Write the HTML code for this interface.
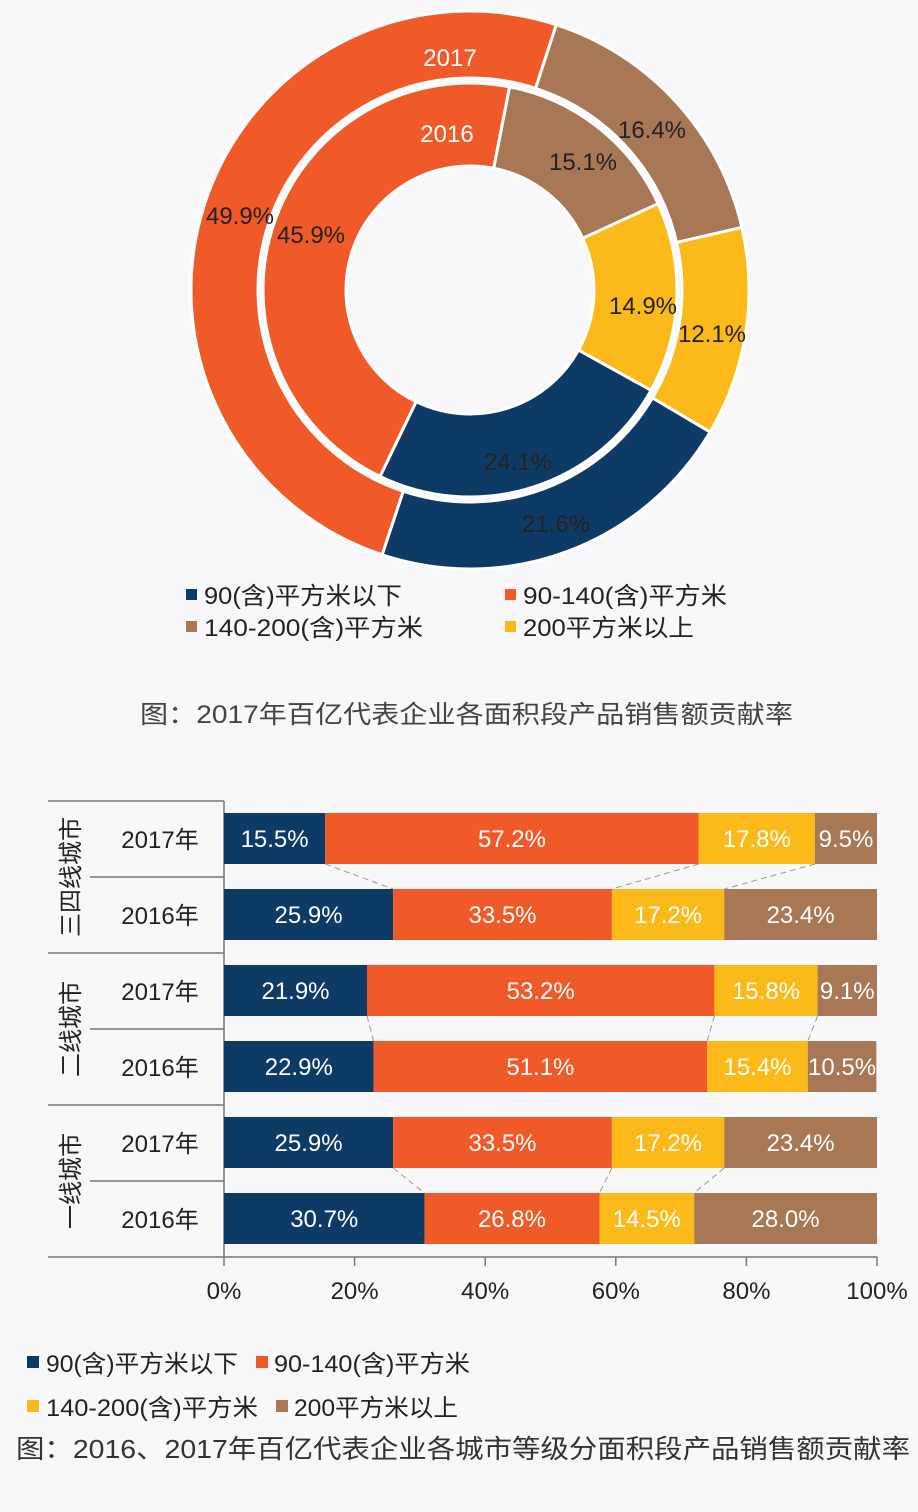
<!DOCTYPE html>
<html><head><meta charset="utf-8">
<style>
html,body{margin:0;padding:0;background:#f8f7f9;}
svg{display:block;font-family:"Liberation Sans","Noto Sans CJK SC",sans-serif;}
</style></head>
<body>
<svg id="chart" width="918" height="1512" viewBox="0 0 918 1512" xmlns="http://www.w3.org/2000/svg">
<rect width="918" height="1512" fill="#f8f7f9"/>
<g id="donut"></g>
<g id="donut-legend">
  <rect x="186" y="589" width="11" height="11" fill="#0e3b66"/>
  <text x="204" y="604" font-size="24" fill="#222" textLength="198" lengthAdjust="spacingAndGlyphs">90(含)平方米以下</text>
  <rect x="505" y="589" width="11" height="11" fill="#f05a28"/>
  <text x="523" y="604" font-size="24" fill="#222" textLength="204" lengthAdjust="spacingAndGlyphs">90-140(含)平方米</text>
  <rect x="186" y="621" width="11" height="11" fill="#a77756"/>
  <text x="204" y="636" font-size="24" fill="#222" textLength="219" lengthAdjust="spacingAndGlyphs">140-200(含)平方米</text>
  <rect x="505" y="621" width="11" height="11" fill="#fbb91a"/>
  <text x="523" y="636" font-size="24" fill="#222" textLength="171" lengthAdjust="spacingAndGlyphs">200平方米以上</text>
</g>
<text x="140" y="723" font-size="25" fill="#444" textLength="653" lengthAdjust="spacingAndGlyphs">图：2017年百亿代表企业各面积段产品销售额贡献率</text>

<g id="table"></g>
<g id="bars"></g>
<g id="axis"></g>

<g>
  <rect x="27" y="1356" width="12" height="12" fill="#0e3b66"/>
  <text x="46" y="1372" font-size="24" fill="#222" textLength="192" lengthAdjust="spacingAndGlyphs">90(含)平方米以下</text>
  <rect x="256" y="1356" width="12" height="12" fill="#f05a28"/>
  <text x="274" y="1372" font-size="24" fill="#222" textLength="196" lengthAdjust="spacingAndGlyphs">90-140(含)平方米</text>
  <rect x="27" y="1400" width="12" height="12" fill="#fbb91a"/>
  <text x="46" y="1416" font-size="24" fill="#222" textLength="212" lengthAdjust="spacingAndGlyphs">140-200(含)平方米</text>
  <rect x="276" y="1400" width="12" height="12" fill="#a77756"/>
  <text x="294" y="1416" font-size="24" fill="#222" textLength="164" lengthAdjust="spacingAndGlyphs">200平方米以上</text>
</g>
<text x="16" y="1458" font-size="26" fill="#333" textLength="894" lengthAdjust="spacingAndGlyphs">图：2016、2017年百亿代表企业各城市等级分面积段产品销售额贡献率</text>
</svg>
<script>
// ---- donut data ----
const donutSegments = ['200平方米以上', '140-200(含)平方米', '90(含)平方米以下', '90-140(含)平方米'];
const donut2017 = [16.4, 12.1, 21.6, 49.9];
const donut2016 = [15.1, 14.9, 24.1, 45.9];
const donutColors = ['#a77756', '#fbb91a', '#0e3b66', '#f05a28'];
// ---- bar data ----
const barRows = ['2017年', '2016年', '2017年', '2016年', '2017年', '2016年'];
const barGroups = ['三四线城市', '二线城市', '一线城市'];
const seriesUnder90 = [15.5, 25.9, 21.9, 22.9, 25.9, 30.7];
const series90to140 = [57.2, 33.5, 53.2, 51.1, 33.5, 26.8];
const series140to200 = [17.8, 17.2, 15.8, 15.4, 17.2, 14.5];
const seriesOver200 = [9.5, 23.4, 9.1, 10.5, 23.4, 28.0];
const xTicks = [0, 20, 40, 60, 80, 100];

const NS = 'http://www.w3.org/2000/svg';
function mk(tag, attrs, parent){ const e=document.createElementNS(NS,tag); for(const k in attrs) e.setAttribute(k,attrs[k]); parent.appendChild(e); return e; }

const cx=470, cy=290;
const dg=document.getElementById('donut');
function arcPath(a0,a1,r0,r1){
  const p=(a,r)=>[cx+r*Math.sin(a), cy-r*Math.cos(a)];
  const large=(a1-a0)>Math.PI?1:0;
  const [x0,y0]=p(a0,r1),[x1,y1]=p(a1,r1),[x2,y2]=p(a1,r0),[x3,y3]=p(a0,r0);
  return `M${x0},${y0}A${r1},${r1} 0 ${large} 1 ${x1},${y1}L${x2},${y2}A${r0},${r0} 0 ${large} 0 ${x3},${y3}Z`;
}
function ring(vals, start, r0, r1, year){
  const tot=vals.reduce((a,b)=>a+b,0);
  let a=start*Math.PI/180;
  vals.forEach((v,i)=>{
    const s=v/tot*2*Math.PI;
    const path=mk('path',{d:arcPath(a,a+s,r0,r1),fill:donutColors[i],stroke:'#fff','stroke-width':3},dg);
    
    
    a+=s;
  });
}
ring(donut2017, 18, 212, 279, '2017');
ring(donut2016, 11, 124, 207, '2016');
const dLabels=[
 ['2017',450,66,'#fff'],['2016',447,142,'#fff'],
 [donut2017[0].toFixed(1)+'%',652,138,'#222'],[donut2016[0].toFixed(1)+'%',583,170,'#222'],
 [donut2016[1].toFixed(1)+'%',643,314,'#222'],[donut2017[1].toFixed(1)+'%',712,342,'#222'],
 [donut2016[2].toFixed(1)+'%',518,470,'#222'],[donut2017[2].toFixed(1)+'%',556,532,'#222'],
 [donut2017[3].toFixed(1)+'%',240,224,'#222'],[donut2016[3].toFixed(1)+'%',311,243,'#222']
];
dLabels.forEach(l=>{
  const t=mk('text',{x:l[1],y:l[2],'font-size':24,fill:l[3],'text-anchor':'middle'},dg);
  t.textContent=l[0];
  
  
});

const x0=224, x1=877;
const xs=v=>x0+(x1-x0)*v/100;
const rowTop=i=>813+i*76;
const barH=51;
const bars=document.getElementById('bars');
const series=[seriesUnder90, series90to140, series140to200, seriesOver200];
const sColors=['#0e3b66','#f05a28','#fbb91a','#a77756'];
const sNames=['under90','90-140','140-200','over200'];
const bounds=[];
barRows.forEach((r,i)=>{
  let acc=0; const b=[];
  series.forEach((s,k)=>{
    const v=s[i];
    const rect=mk('rect',{x:xs(acc),y:rowTop(i),width:xs(acc+v)-xs(acc),height:barH,fill:sColors[k]},bars);
    
    
    const t=mk('text',{x:(xs(acc)+xs(acc+v))/2,y:rowTop(i)+34,'font-size':24,fill:'#fff','text-anchor':'middle'},bars);
    t.textContent=v.toFixed(1)+'%';
    
    
    acc+=v; b.push(acc);
  });
  bounds.push(b);
});
for(let g=0; g<3; g++){
  const a=2*g, b=2*g+1;
  for(let k=0;k<3;k++){
    const ln=mk('line',{x1:xs(bounds[a][k]),y1:rowTop(a)+barH,x2:xs(bounds[b][k]),y2:rowTop(b),stroke:'#999','stroke-width':1,'stroke-dasharray':'6,4'},bars);
    
    
  }
}
const tb=document.getElementById('table');
[801,953,1105].forEach(y=>{ const l=mk('line',{x1:48,y1:y,x2:224,y2:y,stroke:'#777','stroke-width':1.5},tb);  });
[877,1029,1181].forEach(y=>{ const l=mk('line',{x1:90,y1:y,x2:224,y2:y,stroke:'#777','stroke-width':1.5},tb);  });
const vl=mk('line',{x1:224,y1:801,x2:224,y2:1257,stroke:'#777','stroke-width':1.5},tb);


barRows.forEach((r,i)=>{
  const t=mk('text',{x:160,y:rowTop(i)+35,'font-size':24,fill:'#222','text-anchor':'middle'},tb);
  t.textContent=r;
  
  
});
barGroups.forEach((g,i)=>{
  const cyy=877+i*152;
  const t=mk('text',{x:0,y:0,'font-size':24,fill:'#222','text-anchor':'middle',transform:`translate(79,${cyy}) rotate(-90)`},tb);
  t.textContent=g;
  
  
});
const ax=document.getElementById('axis');
const al=mk('line',{x1:48,y1:1257,x2:877,y2:1257,stroke:'#777','stroke-width':1.5},ax);


xTicks.forEach(v=>{
  const tk=mk('line',{x1:xs(v),y1:1257,x2:xs(v),y2:1266,stroke:'#777','stroke-width':1.5},ax);
  
  
  const t=mk('text',{x:xs(v),y:1299,'font-size':24,fill:'#222','text-anchor':'middle'},ax);
  t.textContent=v+'%';
  
  
});
</script>
</body></html>
